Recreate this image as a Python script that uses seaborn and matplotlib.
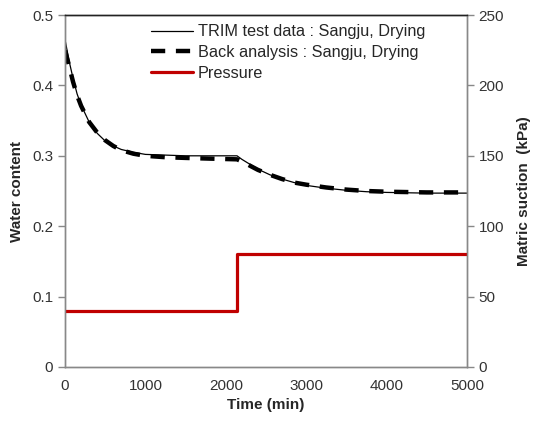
import pandas as pd
import seaborn as sns
import matplotlib.pyplot as plt
from matplotlib.ticker import FuncFormatter

# data
time_test = [0, 50, 100, 150, 200, 300, 400, 500, 600, 700, 850, 1000, 1250, 1500, 1800, 2140,
             2200, 2300, 2400, 2550, 2700, 2850, 3000, 3250, 3500, 3750, 4000, 4500, 5000]
wc_test = [0.465, 0.435, 0.41, 0.388, 0.372, 0.348, 0.332, 0.321, 0.314, 0.309, 0.305, 0.302, 0.301, 0.300, 0.300, 0.300,
           0.295, 0.288, 0.281, 0.273, 0.267, 0.262, 0.258, 0.254, 0.251, 0.249, 0.248, 0.247, 0.247]

time_back = [0, 50, 100, 150, 200, 300, 400, 500, 600, 700, 850, 1000, 1250, 1500, 1800, 2140,
             2200, 2300, 2400, 2550, 2700, 2850, 3000, 3250, 3500, 3750, 4000, 4500, 5000]
wc_back = [0.450, 0.428, 0.405, 0.386, 0.371, 0.348, 0.333, 0.322, 0.314, 0.308, 0.303, 0.300, 0.298, 0.297, 0.296, 0.295,
           0.292, 0.286, 0.280, 0.273, 0.267, 0.262, 0.259, 0.255, 0.252, 0.250, 0.249, 0.248, 0.248]

time_p = [0, 2140, 2140, 5000]
pressure = [40, 40, 80, 80]

sns.set_style("white")
plt.rcParams['font.family'] = ['Liberation Sans', 'DejaVu Sans']
plt.rcParams['font.size'] = 11

fig, ax = plt.subplots(figsize=(5.33, 4.23), dpi=100)
fig.subplots_adjust(left=0.122, right=0.876, top=0.9645, bottom=0.1324)
ax2 = ax.twinx()

df_test = pd.DataFrame({"t": time_test, "w": wc_test})
df_back = pd.DataFrame({"t": time_back, "w": wc_back})
df_p = pd.DataFrame({"t": time_p, "p": pressure})

sns.lineplot(x="t", y="w", data=df_back, ax=ax, color="black", lw=3.2,
             linestyle=(0, (3.2, 2.4)), label="Back analysis : Sangju, Drying")
sns.lineplot(x="t", y="w", data=df_test, ax=ax, color="black", lw=0.9,
             label="TRIM test data : Sangju, Drying")
sns.lineplot(x="t", y="p", data=df_p, ax=ax2, color="#C00000", lw=2.3,
             estimator=None, sort=False, label="Pressure")

ax.set_xlim(0, 5000)
ax.set_ylim(0, 0.5)
ax2.set_ylim(0, 250)
ax.set_xticks(range(0, 5001, 1000))
ax.set_yticks([0, 0.1, 0.2, 0.3, 0.4, 0.5])
ax2.set_yticks(range(0, 251, 50))
ax.yaxis.set_major_formatter(FuncFormatter(lambda v, p: f"{v:g}"))

ax.set_xlabel("Time (min)", fontweight="bold", fontsize=11)
ax.set_ylabel("Water content", fontweight="bold", fontsize=11, labelpad=6)
ax2.set_ylabel("Matric suction  (kPa)", fontweight="bold", fontsize=11, labelpad=9)

for a in (ax, ax2):
    for s in a.spines.values():
        s.set_color("#888888")
        s.set_linewidth(1)
    a.spines["top"].set_color("#222222")
    a.tick_params(colors="#888888", labelcolor="#333333", length=5, width=1, labelsize=11, direction="out")

# legend with all three series
h1, l1 = ax.get_legend_handles_labels()
h2, l2 = ax2.get_legend_handles_labels()
ax.get_legend().remove()
ax2.get_legend().remove()
handles = [h1[1], h1[0], h2[0]]
labels = [l1[1], l1[0], l2[0]]
ax2.legend(handles, labels, loc="upper right", bbox_to_anchor=(0.925, 1.006), frameon=False,
           handlelength=2.6, handletextpad=0.3, labelspacing=0.35, fontsize=11.7, borderaxespad=0.3)

plt.savefig("out.png", dpi=100)
